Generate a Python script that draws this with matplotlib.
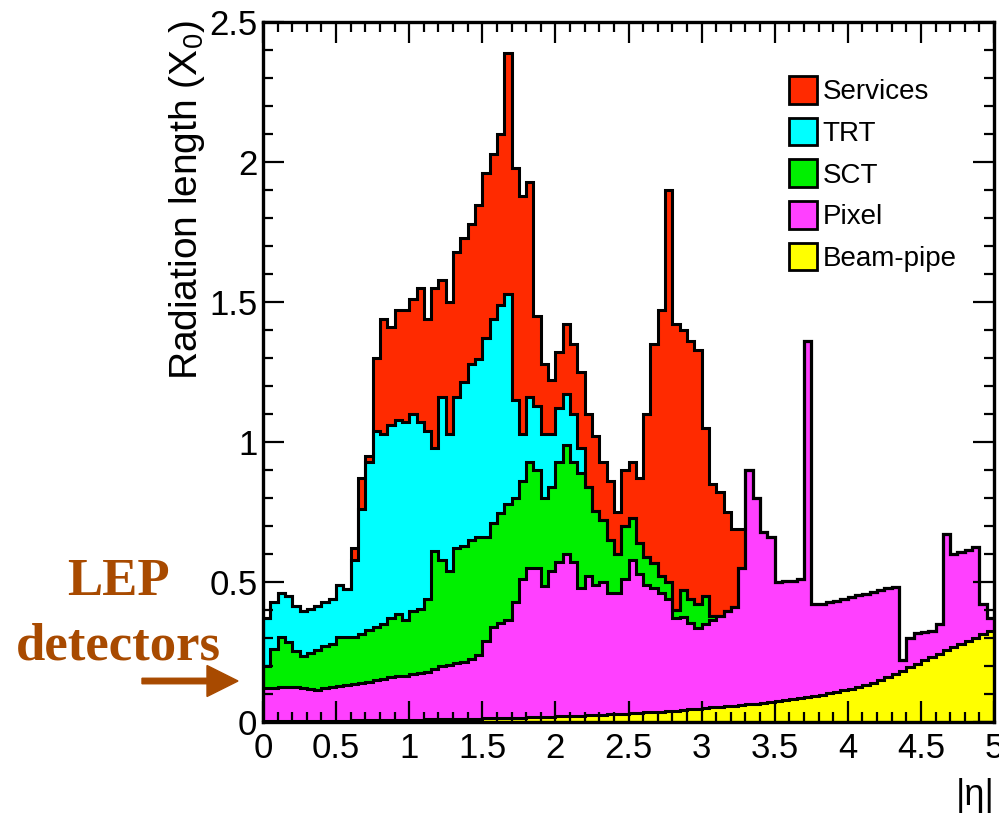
import numpy as np
import matplotlib
matplotlib.use("Agg")
import matplotlib.pyplot as plt
from matplotlib.patches import Patch, FancyArrow
from matplotlib.ticker import MultipleLocator

# material in front of the calorimeter vs |eta|, 100 bins of 0.05
# each list is the top of the stack after that layer
eta_edges = np.linspace(0, 5, 101)

beampipe_top = [
    0.005, 0.005, 0.005, 0.005, 0.005, 0.005, 0.005, 0.005, 0.005, 0.005,
    0.005, 0.005, 0.006, 0.006, 0.006, 0.006, 0.007, 0.007, 0.007, 0.008,
    0.008, 0.008, 0.009, 0.009, 0.010, 0.010, 0.011, 0.011, 0.012, 0.012,
    0.013, 0.013, 0.014, 0.015, 0.015, 0.016, 0.017, 0.017, 0.018, 0.019,
    0.020, 0.021, 0.022, 0.023, 0.024, 0.025, 0.026, 0.027, 0.028, 0.030,
    0.031, 0.032, 0.034, 0.035, 0.037, 0.039, 0.041, 0.043, 0.045, 0.047,
    0.050, 0.052, 0.054, 0.056, 0.058, 0.061, 0.063, 0.066, 0.068, 0.071,
    0.075, 0.078, 0.082, 0.086, 0.090, 0.094, 0.098, 0.103, 0.108, 0.113,
    0.118, 0.125, 0.133, 0.141, 0.150, 0.160, 0.171, 0.183, 0.196, 0.208,
    0.220, 0.232, 0.244, 0.256, 0.267, 0.279, 0.290, 0.301, 0.313, 0.326]

pixel_top = [
    0.120, 0.120, 0.125, 0.126, 0.125, 0.120, 0.118, 0.115, 0.122, 0.126,
    0.130, 0.132, 0.135, 0.138, 0.142, 0.150, 0.155, 0.160, 0.163, 0.166,
    0.170, 0.175, 0.180, 0.190, 0.200, 0.205, 0.210, 0.215, 0.225, 0.240,
    0.290, 0.340, 0.355, 0.365, 0.430, 0.510, 0.550, 0.550, 0.485, 0.540,
    0.570, 0.600, 0.570, 0.480, 0.520, 0.490, 0.500, 0.460, 0.460, 0.510,
    0.580, 0.530, 0.490, 0.477, 0.460, 0.440, 0.370, 0.376, 0.355, 0.335,
    0.350, 0.365, 0.380, 0.395, 0.410, 0.550, 0.900, 0.800, 0.680, 0.660,
    0.500, 0.502, 0.505, 0.510, 1.360, 0.420, 0.420, 0.427, 0.433, 0.440,
    0.446, 0.452, 0.458, 0.465, 0.471, 0.477, 0.483, 0.220, 0.300, 0.317,
    0.320, 0.325, 0.350, 0.670, 0.600, 0.607, 0.615, 0.625, 0.420, 0.370]

# beyond |eta| ~ 3.3 only pixel + beam-pipe contribute
sct_top = [
    0.200, 0.260, 0.305, 0.285, 0.255, 0.235, 0.245, 0.257, 0.270, 0.280,
    0.305, 0.305, 0.305, 0.315, 0.330, 0.340, 0.350, 0.370, 0.385, 0.365,
    0.395, 0.405, 0.440, 0.610, 0.580, 0.540, 0.620, 0.630, 0.650, 0.660,
    0.660, 0.710, 0.745, 0.780, 0.800, 0.860, 0.930, 0.900, 0.800, 0.840,
    0.930, 0.990, 0.930, 0.890, 0.840, 0.755, 0.720, 0.650, 0.600, 0.700,
    0.730, 0.640, 0.590, 0.567, 0.520, 0.500, 0.400, 0.470, 0.440, 0.420,
    0.450, 0.380, 0.380, 0.395, 0.410, 0.550, 0.900, 0.800, 0.680, 0.660,
] + pixel_top[70:]

trt_top = [
    0.370, 0.430, 0.460, 0.450, 0.415, 0.395, 0.405, 0.415, 0.430, 0.440,
    0.490, 0.475, 0.580, 0.760, 0.930, 1.040, 1.030, 1.060, 1.080, 1.070,
    1.100, 1.070, 1.040, 0.980, 1.160, 1.030, 1.160, 1.215, 1.280, 1.295,
    1.370, 1.440, 1.490, 1.530, 1.150, 1.030, 1.160, 1.130, 1.030, 1.030,
    1.120, 1.170, 1.100, 0.980, 0.840, 0.755, 0.720, 0.650, 0.600, 0.700,
    0.730, 0.640, 0.590, 0.567, 0.520, 0.500, 0.400, 0.470, 0.440, 0.420,
    0.450, 0.380, 0.380, 0.395, 0.410, 0.550, 0.900, 0.800, 0.680, 0.660,
] + pixel_top[70:]

services_top = [
    0.370, 0.430, 0.460, 0.450, 0.415, 0.395, 0.405, 0.415, 0.430, 0.440,
    0.490, 0.475, 0.620, 0.870, 0.950, 1.300, 1.440, 1.410, 1.470, 1.470,
    1.510, 1.550, 1.440, 1.550, 1.580, 1.500, 1.680, 1.730, 1.780, 1.845,
    1.960, 2.030, 2.100, 2.390, 1.980, 1.880, 1.930, 1.450, 1.280, 1.220,
    1.320, 1.420, 1.350, 1.250, 1.100, 1.020, 0.930, 0.860, 0.750, 0.900,
    0.930, 0.870, 1.100, 1.350, 1.470, 1.900, 1.420, 1.400, 1.360, 1.330,
    1.050, 0.850, 0.820, 0.750, 0.690, 0.690, 0.900, 0.800, 0.680, 0.660,
] + pixel_top[70:]

layer_names = ["Services", "TRT", "SCT", "Pixel", "Beam-pipe"]
layer_colors = ["#ff2a00", "#00ffff", "#00f000", "#ff40ff", "#ffff00"]
layer_tops = [services_top, trt_top, sct_top, pixel_top, beampipe_top]

xticks = [0, 0.5, 1, 1.5, 2, 2.5, 3, 3.5, 4, 4.5, 5]
xtick_labels = ["0", "0.5", "1", "1.5", "2", "2.5", "3", "3.5", "4", "4.5", "5"]
yticks = [0, 0.5, 1, 1.5, 2, 2.5]
ytick_labels = ["0", "0.5", "1", "1.5", "2", "2.5"]

brown = "#a84a00"

plt.rcParams["font.family"] = ["Liberation Sans", "DejaVu Sans"]

fig = plt.figure(figsize=(9.99, 8.17), dpi=100)
ax = fig.add_axes([263 / 999, 95 / 817, 731 / 999, 700 / 817])

# filled stack, biggest first so the lower layers paint over it
for top, col in zip(layer_tops, layer_colors):
    ax.stairs(top, eta_edges, baseline=0, fill=True, color=col, lw=0)
for top in layer_tops:
    ax.stairs(top, eta_edges, baseline=None, color="black", lw=2.2)

ax.set_xlim(0, 5)
ax.set_ylim(0, 2.5)
ax.set_xticks(xticks)
ax.set_xticklabels(xtick_labels)
ax.set_yticks(yticks)
ax.set_yticklabels(ytick_labels)
ax.xaxis.set_minor_locator(MultipleLocator(0.1))
ax.yaxis.set_minor_locator(MultipleLocator(0.1))
ax.tick_params(which="both", direction="in", top=True, right=True, width=1.6, labelsize=25)
ax.tick_params(which="major", length=15)
ax.tick_params(which="minor", length=7.5)
ax.tick_params(axis="x", pad=7)
ax.tick_params(axis="y", pad=4)
for sp in ax.spines.values():
    sp.set_linewidth(2.4)
    sp.set_zorder(5)

handles = [Patch(facecolor=c, edgecolor="black", linewidth=2) for c in layer_colors]
ax.legend(handles, layer_names, loc="upper left", bbox_to_anchor=(789 / 999, 1 - 76 / 817),
          bbox_transform=fig.transFigure, frameon=False, fontsize=20, borderpad=0,
          borderaxespad=0, handlelength=1.0, handleheight=1.15, handletextpad=0.2,
          labelspacing=0.45)

fig.text(187 / 999, 1 - 20 / 817, r"Radiation length ($\mathregular{X_0}$)", rotation=90,
         ha="center", va="top", fontsize=28)
fig.text(995 / 999, 1 - 778 / 817, "|η|", ha="right", va="top", fontsize=26)

# annotation in the slide
fig.text(118 / 999, 1 - 595 / 817, "LEP", ha="center", va="baseline", fontsize=38,
         fontweight="bold", family="Liberation Serif", color=brown)
fig.text(118 / 999, 1 - 660 / 817, "detectors", ha="center", va="baseline", fontsize=38,
         fontweight="bold", family="Liberation Serif", color=brown)
arrow = FancyArrow(1.42, 1.36, 0.96, 0, width=0.055, head_width=0.31, head_length=0.31,
                   length_includes_head=True, color=brown, transform=fig.dpi_scale_trans)
fig.add_artist(arrow)
# next line of the slide, only the tops of its letters are in the frame
fig.text(45 / 999, 1 - 855 / 817, "Active sensors: a small fraction",
         ha="left", va="baseline", fontsize=38, fontweight="bold",
         family="Liberation Serif", color=brown)

fig.savefig("out.png", dpi=100)
